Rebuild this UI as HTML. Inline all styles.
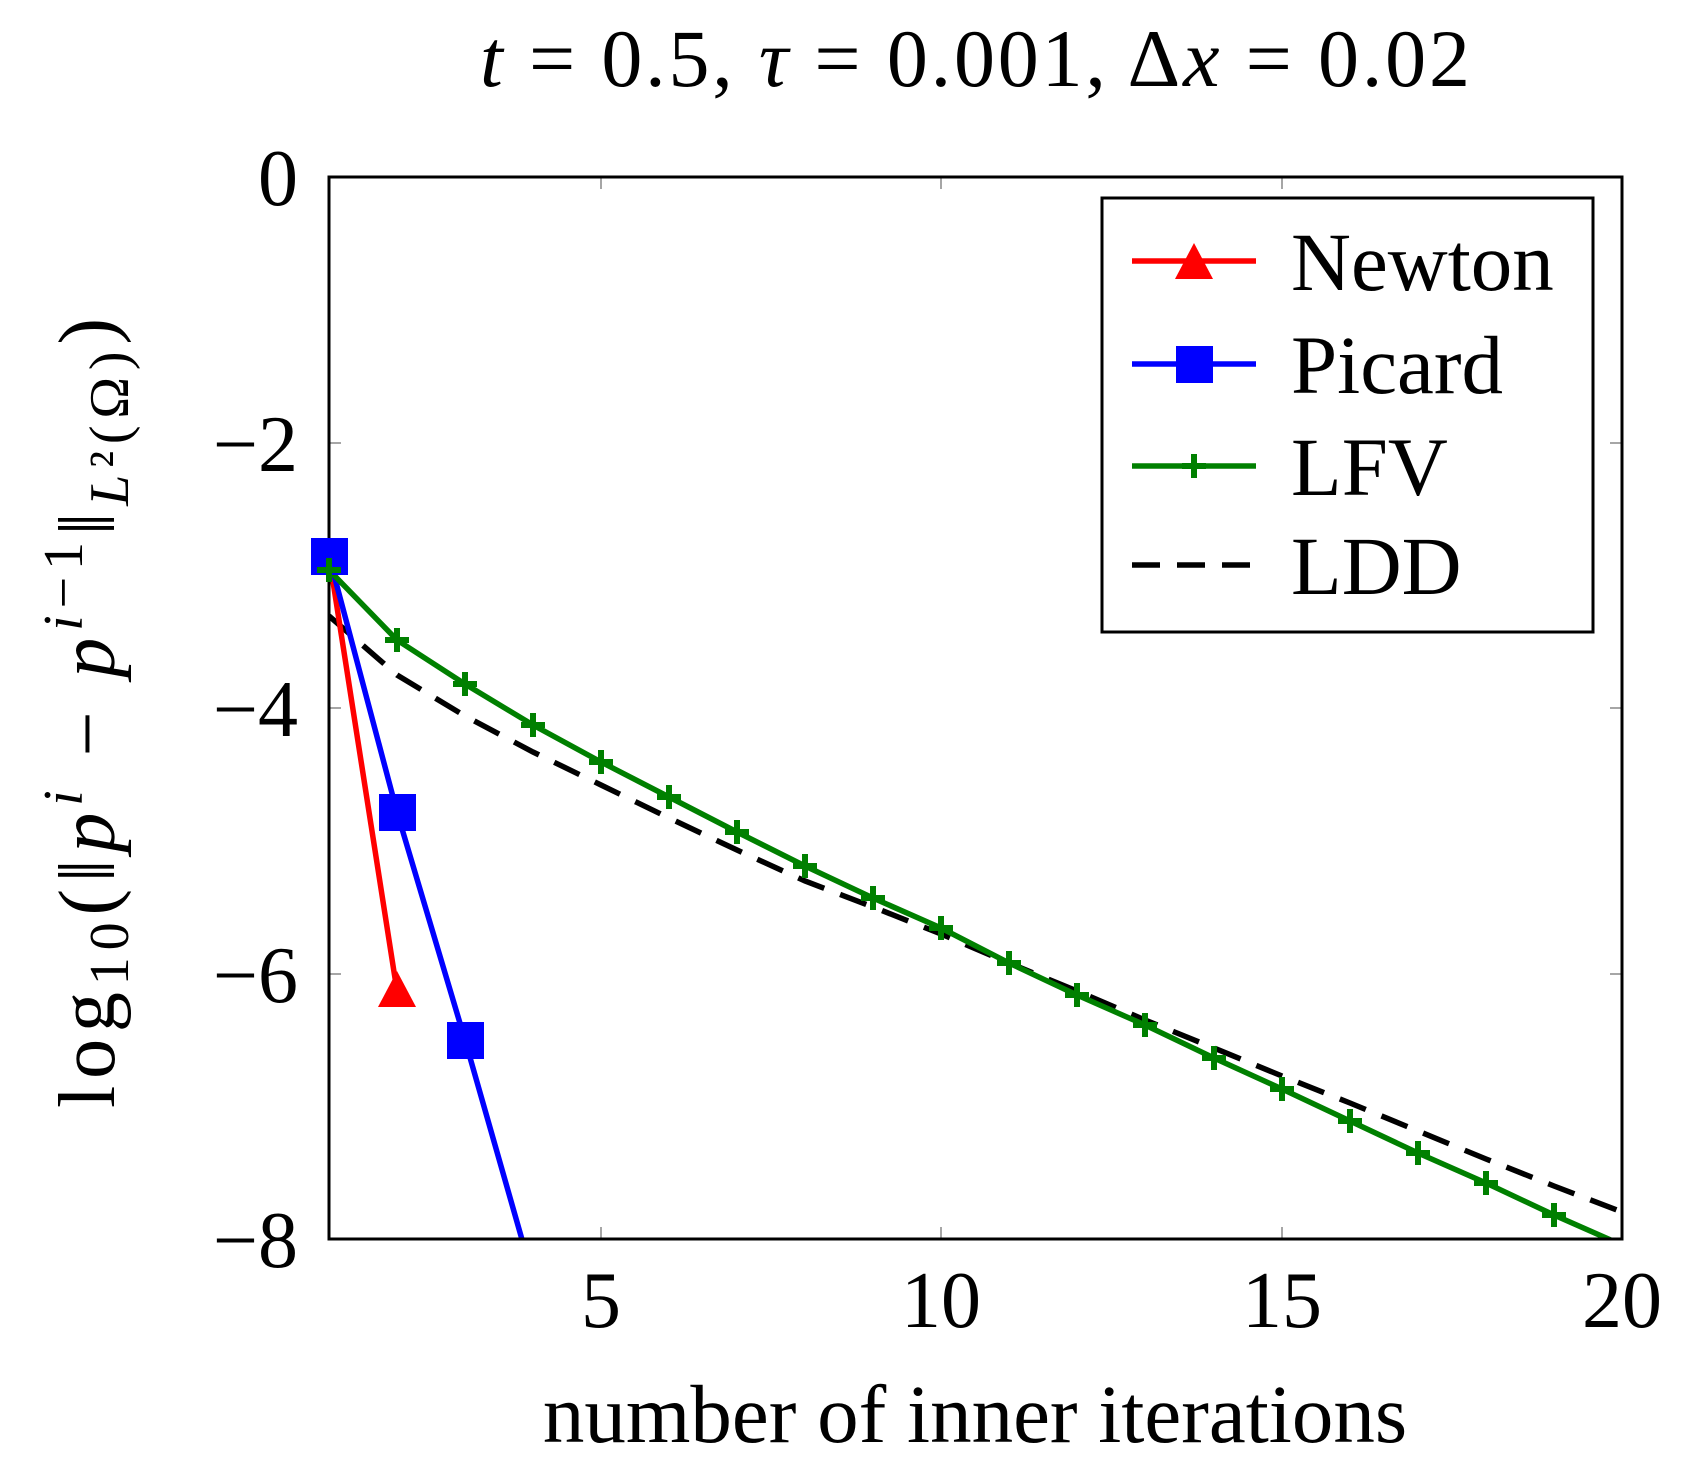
<!DOCTYPE html>
<html><head><meta charset="utf-8"><style>html,body{margin:0;padding:0;background:#fff}svg{display:block}</style></head>
<body>
<svg width="1691" height="1469" viewBox="0 0 1691 1469" xmlns="http://www.w3.org/2000/svg" font-family="Liberation Serif, serif">
<rect width="1691" height="1469" fill="#fff"/>
<text x="480" y="86" font-size="82" textLength="990" lengthAdjust="spacing"><tspan font-style="italic">t</tspan> = 0.5, <tspan font-style="italic">τ</tspan> = 0.001, Δ<tspan font-style="italic">x</tspan> = 0.02</text>
<g stroke="#888" stroke-width="1.5">
<line x1="601" y1="177" x2="601" y2="189"/><line x1="601" y1="1239" x2="601" y2="1227"/>
<line x1="941" y1="177" x2="941" y2="189"/><line x1="941" y1="1239" x2="941" y2="1227"/>
<line x1="1282" y1="177" x2="1282" y2="189"/><line x1="1282" y1="1239" x2="1282" y2="1227"/>
<line x1="329" y1="443" x2="341" y2="443"/><line x1="1622" y1="443" x2="1610" y2="443"/>
<line x1="329" y1="708" x2="341" y2="708"/><line x1="1622" y1="708" x2="1610" y2="708"/>
<line x1="329" y1="974" x2="341" y2="974"/><line x1="1622" y1="974" x2="1610" y2="974"/>
</g>
<g font-size="80" text-anchor="end">
<text x="298" y="205">0</text>
<text x="298" y="471">−2</text>
<text x="298" y="736">−4</text>
<text x="298" y="1002">−6</text>
<text x="298" y="1267">−8</text>
</g>
<g font-size="80" text-anchor="middle">
<text x="601" y="1327">5</text>
<text x="941" y="1327">10</text>
<text x="1282" y="1327">15</text>
<text x="1622" y="1327">20</text>
</g>
<text x="975" y="1442" font-size="83" text-anchor="middle">number of inner iterations</text>
<text transform="translate(114,1108) rotate(-90)" font-size="80" textLength="790" lengthAdjust="spacing">log<tspan font-size="56" dy="14">10</tspan><tspan dy="-14">(‖</tspan><tspan font-style="italic">p</tspan><tspan font-style="italic" font-size="56" dy="-32">i</tspan><tspan dy="32"> − </tspan><tspan font-style="italic">p</tspan><tspan font-size="56" dy="-32"><tspan font-style="italic">i</tspan>−1</tspan><tspan dy="32">‖</tspan><tspan font-size="56" dy="14"><tspan font-style="italic">L</tspan>²(Ω)</tspan><tspan dy="-14">)</tspan></text>
<defs><clipPath id="c"><rect x="329" y="177" width="1293" height="1062"/></clipPath></defs>
<g clip-path="url(#c)" fill="none" stroke-width="5.5">
<polyline stroke="#000" stroke-dasharray="28,17" points="329,616 397,675 465,716 533,752 601,785 669,818 737,850 805,881 873,907 941,934 1009,963 1077,991 1145,1020 1214,1048 1282,1076 1350,1103 1418,1131 1486,1159 1554,1186 1622,1212"/>
<polyline stroke="#f00" points="329,556 397,991"/>
<polyline stroke="#00f" points="329,556 397,812 465,1040 533,1278"/>
<polyline stroke="#008000" points="329,570 397,640 465,684 533,725 601,762 669,797 737,832 805,866 873,898 941,928 1009,963 1077,995 1145,1025 1214,1058 1282,1089 1350,1121 1418,1153 1486,1183 1554,1215 1622,1245"/>
</g>
<rect x="329" y="177" width="1293" height="1062" fill="none" stroke="#000" stroke-width="3"/>
<g fill="#00f"><rect x="311" y="538" width="37" height="37"/><rect x="379" y="794" width="37" height="37"/><rect x="447" y="1022" width="37" height="37"/></g>
<polygon fill="#f00" points="397,971 416,1007 378,1007"/>
<g stroke="#008000" stroke-width="6">
<path d="M329,558v24M317,570h24 M397,628v24M385,640h24 M465,672v24M453,684h24 M533,713v24M521,725h24 M601,750v24M589,762h24 M669,785v24M657,797h24 M737,820v24M725,832h24 M805,854v24M793,866h24 M873,886v24M861,898h24 M941,916v24M929,928h24 M1009,951v24M997,963h24 M1077,983v24M1065,995h24 M1145,1013v24M1133,1025h24 M1214,1046v24M1202,1058h24 M1282,1077v24M1270,1089h24 M1350,1109v24M1338,1121h24 M1418,1141v24M1406,1153h24 M1486,1171v24M1474,1183h24 M1554,1203v24M1542,1215h24"/>
</g>
<rect x="1102" y="198" width="491" height="434" fill="#fff" stroke="#000" stroke-width="3"/>
<line x1="1132" y1="261" x2="1256" y2="261" stroke="#f00" stroke-width="5.5"/>
<polygon fill="#f00" points="1194,243 1213,279 1175,279"/>
<line x1="1132" y1="364" x2="1256" y2="364" stroke="#00f" stroke-width="5.5"/>
<rect x="1176" y="346" width="37" height="37" fill="#00f"/>
<line x1="1132" y1="466" x2="1256" y2="466" stroke="#008000" stroke-width="5.5"/>
<path d="M1194,454v24M1182,466h24" stroke="#008000" stroke-width="6"/>
<line x1="1132" y1="565" x2="1256" y2="565" stroke="#000" stroke-width="5.5" stroke-dasharray="28,17"/>
<g font-size="83">
<text x="1291" y="290">Newton</text>
<text x="1291" y="393">Picard</text>
<text x="1291" y="495">LFV</text>
<text x="1291" y="594">LDD</text>
</g>
</svg>
</body></html>
